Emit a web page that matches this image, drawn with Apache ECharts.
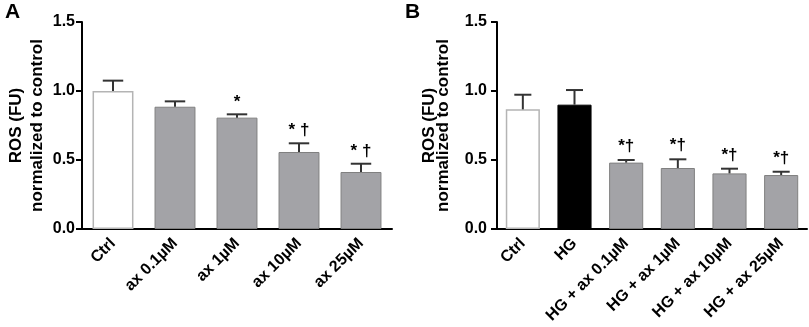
<!DOCTYPE html>
<html>
<head>
<meta charset="utf-8">
<script src="https://cdn.jsdelivr.net/npm/echarts@6/dist/echarts.min.js"></script>
<style>html,body{margin:0;padding:0;background:#fff}#c{width:809px;height:327px}</style>
</head>
<body>
<div id="c"></div>
<script>
// ---- data ----
const catsA = ['Ctrl', 'ax 0.1µM', 'ax 1µM', 'ax 10µM', 'ax 25µM'];
const meanA = [1.0, 0.886, 0.807, 0.558, 0.413];
const semA  = [0.075, 0.039, 0.024, 0.063, 0.060];
const sigA  = ['', '', '*', '* †', '* †'];

const catsB = ['Ctrl', 'HG', 'HG + ax 0.1µM', 'HG + ax 1µM', 'HG + ax 10µM', 'HG + ax 25µM'];
const meanB = [0.867, 0.901, 0.481, 0.442, 0.403, 0.391];
const semB  = [0.106, 0.106, 0.019, 0.063, 0.034, 0.024];
const sigB  = ['', '', '*†', '*†', '*†', '*†'];

const yTicks = [0, 0.5, 1.0, 1.5];

// ---- styles ----
const FONT = 'Liberation Sans, Arial, sans-serif';
function barStyle(cat) {
  if (cat === 'Ctrl') return { color: '#ffffff', borderColor: '#b4b4b4', borderWidth: 1.5 };
  if (cat === 'HG') return { color: '#000000', borderColor: '#000000', borderWidth: 1 };
  return { color: '#a3a3a7', borderColor: '#808080', borderWidth: 1 };
}

function xAxisCfg(cats, gi) {
  return {
    type: 'category', gridIndex: gi, data: cats,
    axisLine: { lineStyle: { color: '#000', width: 2 } },
    axisTick: { alignWithLabel: true, length: 6, lineStyle: { color: '#000', width: 2 } },
    axisLabel: { rotate: 45, margin: 12, interval: 0, color: '#000', fontWeight: 'bold', fontSize: 16, fontFamily: FONT }
  };
}
function yAxisCfg(gi, gap, lh, lm) {
  return {
    type: 'value', gridIndex: gi, min: 0, max: 1.5, interval: 0.5,
    name: 'ROS (FU)\nnormalized to control', nameLocation: 'middle', nameRotate: 90, nameGap: gap,
    nameTextStyle: { color: '#000', fontWeight: 'bold', fontSize: 17, fontFamily: FONT, lineHeight: lh },
    splitLine: { show: false },
    axisLine: { show: true, lineStyle: { color: '#000', width: 2 } },
    axisTick: { show: true, length: 6, lineStyle: { color: '#000', width: 2 } },
    axisLabel: { margin: lm, color: '#000', fontWeight: 'bold', fontSize: 16, fontFamily: FONT,
      formatter: v => yTicks.includes(v) ? v.toFixed(1) : '' }
  };
}

function barSeries(cats, means, gi) {
  return {
    type: 'bar', xAxisIndex: gi, yAxisIndex: gi, barWidth: '66%',
    data: means.map((v, i) => ({ value: v, itemStyle: barStyle(cats[i]) })),
    z: 2, silent: true
  };
}
function errSeries(means, sems, sigs, gi, sigGap) {
  return {
    type: 'custom', xAxisIndex: gi, yAxisIndex: gi, z: 3, silent: true,
    data: means.map((v, i) => [i, v, v + sems[i]]),
    encode: { x: 0, y: [1, 2] },
    renderItem: function (params, api) {
      const i = api.value(0);
      const p0 = api.coord([i, api.value(1)]);
      const p1 = api.coord([i, api.value(2)]);
      const half = api.size([1, 0])[0] * 0.66 * 0.25;
      const st = { stroke: '#333', lineWidth: 2 };
      const children = [
        { type: 'line', shape: { x1: p0[0], y1: p0[1], x2: p1[0], y2: p1[1] }, style: st },
        { type: 'line', shape: { x1: p1[0] - half, y1: p1[1], x2: p1[0] + half, y2: p1[1] }, style: st }
      ];
      const s = sigs[params.dataIndex];
      if (s) {
        children.push({ type: 'text', style: { text: s, x: p1[0], y: p1[1] - sigGap, align: 'center', verticalAlign: 'bottom',
          fill: '#000', font: 'bold 17px ' + FONT } });
      }
      return { type: 'group', children };
    }
  };
}

const chart = echarts.init(document.getElementById('c'), null, { renderer: 'canvas' });
chart.setOption({
  animation: false,
  title: [
    { text: 'A', left: 0, top: -3, textStyle: { fontSize: 21, fontWeight: 'bold', color: '#000', fontFamily: FONT } },
    { text: 'B', left: 400, top: -3, textStyle: { fontSize: 21, fontWeight: 'bold', color: '#000', fontFamily: FONT } }
  ],
  grid: [
    { left: 82, top: 22, width: 310, height: 207 },
    { left: 497, top: 22, width: 310, height: 207 }
  ],
  xAxis: [xAxisCfg(catsA, 0), xAxisCfg(catsB, 1)],
  yAxis: [yAxisCfg(0, 34, 21, 7), yAxisCfg(1, 47, 14, 10)],
  series: [
    barSeries(catsA, meanA, 0), errSeries(meanA, semA, sigA, 0, 4),
    barSeries(catsB, meanB, 1), errSeries(meanB, semB, sigB, 1, 5)
  ]
});
</script>
</body>
</html>
